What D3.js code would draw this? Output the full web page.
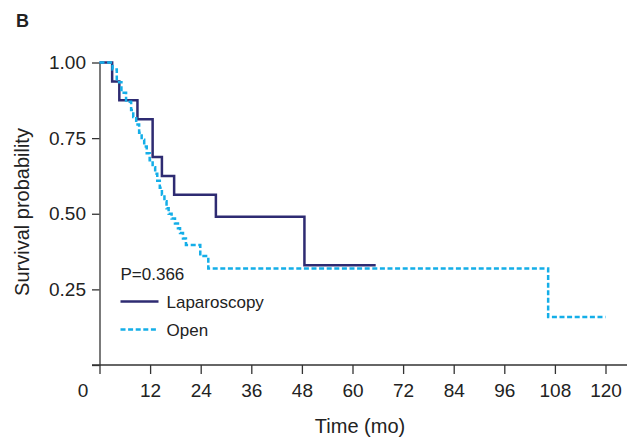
<!DOCTYPE html>
<html>
<head>
<meta charset="utf-8">
<script src="https://cdn.jsdelivr.net/npm/d3@7"></script>
<style>
  body { margin: 0; background: #fff; }
  svg { display: block; }
  text { font-family: "Liberation Sans", Arial, sans-serif; fill: #222; }
</style>
</head>
<body>
<div id="chart"></div>
<script>
// Kaplan-Meier curves, values (months, survival probability)
const lapTimes = [0, 3, 4.7, 9, 12.6, 14.8, 17.7, 27.6, 48.6, 65.5];
const lapSurv  = [1, 0.9375, 0.875, 0.8125, 0.6875, 0.625, 0.5625, 0.49, 0.33, 0.33];

const openTimes = [0, 3.1, 4.1, 5.2, 6.3, 7.5, 8.0, 8.7, 9.4, 10.0, 10.6, 11.2, 11.9, 12.6, 13.2,
                   13.7, 14.3, 14.8, 15.4, 15.9, 16.4, 17.1, 17.9, 18.6, 19.1, 19.8, 20.5,
                   23.9, 25.8, 106.4, 120];
const openSurv  = [1, 0.977, 0.935, 0.900, 0.870, 0.843, 0.820, 0.795, 0.768, 0.745, 0.722, 0.700,
                   0.677, 0.654, 0.632, 0.609, 0.586, 0.563, 0.541, 0.518, 0.500, 0.484, 0.468,
                   0.452, 0.436, 0.418, 0.397, 0.360, 0.319, 0.159, 0.159];

const seriesNames = ["Laparoscopy", "Open"];
const xTicks = [0, 12, 24, 36, 48, 60, 72, 84, 96, 108, 120];
const yTicks = [0, 0.25, 0.5, 0.75, 1];
const pLabel = "P=0.366";

const W = 632, H = 438;
const NAVY = "#2e2b72", CYAN = "#14aee8", AXIS = "#333";

const svg = d3.select("#chart").append("svg")
    .attr("width", W)
    .attr("height", H);

const x = d3.scaleLinear().domain([0, 120]).range([99.5, 605.5]);
const y = d3.scaleLinear().domain([0, 1]).range([365, 62.5]);

// axes
const yAxis = svg.append("g")
    .attr("transform", `translate(${x(0)},0)`)
    .call(d3.axisLeft(y).tickValues(yTicks).tickSize(7.5).tickPadding(6).tickSizeOuter(0)
        .tickFormat(d => d === 0 ? "" : d3.format(".2f")(d)));

const xAxis = svg.append("g")
    .attr("transform", `translate(0,${y(0)})`)
    .call(d3.axisBottom(x).tickValues(xTicks).tickSize(9).tickPadding(10));
xAxis.select(".domain").remove();
// the "0" label sits left of its tick in the original
xAxis.selectAll(".tick text").filter(d => d === 0).attr("x", -17);

svg.append("line")
    .attr("x1", x(0) - 7.5).attr("x2", 627)
    .attr("y1", y(0)).attr("y2", y(0))
    .attr("stroke", AXIS).attr("stroke-width", 1.3);

[yAxis, xAxis].forEach(g => {
    g.selectAll("line, path").attr("stroke", AXIS).attr("stroke-width", 1.3);
    g.selectAll("text").style("font-family", "Liberation Sans, Arial, sans-serif")
        .style("font-size", "19px").attr("fill", "#222");
});

// step curves
const step = d3.line()
    .x(d => x(d[0]))
    .y(d => y(d[1]))
    .curve(d3.curveStepAfter);

svg.append("path")
    .datum(d3.zip(lapTimes, lapSurv))
    .attr("d", step)
    .attr("fill", "none")
    .attr("stroke", NAVY)
    .attr("stroke-width", 2.5);

svg.append("path")
    .datum(d3.zip(openTimes, openSurv))
    .attr("d", step)
    .attr("fill", "none")
    .attr("stroke", CYAN)
    .attr("stroke-width", 2.5)
    .attr("stroke-dasharray", "5,2.6");

// legend
svg.append("text").attr("x", 120.5).attr("y", 280)
    .style("font-size", "17px").text(pLabel);

const legend = svg.selectAll(".legend")
    .data(seriesNames)
    .enter().append("g")
    .attr("class", "legend")
    .attr("transform", (d, i) => `translate(120.5,${301.5 + i * 28})`);

legend.append("line")
    .attr("x1", 0).attr("x2", 38)
    .attr("stroke", (d, i) => i === 0 ? NAVY : CYAN)
    .attr("stroke-width", 2.5)
    .attr("stroke-dasharray", (d, i) => i === 0 ? null : "5,2.6");

legend.append("text")
    .attr("x", 46).attr("y", 6)
    .style("font-size", "17px")
    .text(d => d);

// titles
svg.append("text")
    .attr("transform", "translate(29,212) rotate(-90)")
    .attr("text-anchor", "middle")
    .style("font-size", "20px")
    .text("Survival probability");

svg.append("text")
    .attr("x", 360).attr("y", 433)
    .attr("text-anchor", "middle")
    .style("font-size", "20px")
    .text("Time (mo)");

svg.append("text")
    .attr("x", 16).attr("y", 27)
    .style("font-size", "18px")
    .style("font-weight", "bold")
    .text("B");
</script>
</body>
</html>
